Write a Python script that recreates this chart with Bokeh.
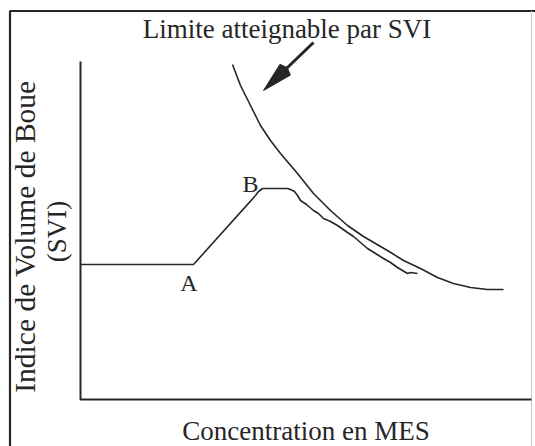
import numpy as np
from bokeh.plotting import figure
from bokeh.models import Range1d
from bokeh.core.properties import value
from bokeh.embed import file_html
from bokeh.resources import INLINE

# --- data (arbitrary units: concentration MES vs SVI) ---
svi_x = [0, 113, 175, 178, 182, 207, 210, 214, 217, 220, 226, 233, 238, 243, 250, 257,
         267, 273, 280, 287, 295, 303, 310, 317, 327, 330, 337]
svi_y = [135, 135, 204, 208, 211, 211, 210, 208, 204, 199, 195, 189, 186, 181, 178, 174,
         167, 163, 157, 151, 146, 141, 137, 132, 126, 127, 126]

limit_x = [152, 160, 170, 180, 190, 200, 217, 233, 250, 267, 283, 300, 307, 323, 340,
           357, 373, 390, 407, 423]
limit_y = [335, 314, 294, 274, 259, 246, 226, 206, 189, 174, 163, 153, 149, 139, 131,
           122, 116, 112, 110, 110]

x_axis_end = 451
y_axis_end = 338

arrow_tail = (233, 357)
arrow_tip = (183, 309)

title_text = "Limite atteignable par SVI"
xlabel_text = "Concentration en MES"
ylabel_text = "Indice de Volume de Boue"
ylabel2_text = "(SVI)"
point_labels = ["A", "B"]

INK = "#262626"
FONT = value("Liberation Serif")

p = figure(width=535, height=446, output_backend="svg", toolbar_location=None,
           x_range=Range1d(-80, 455), y_range=Range1d(-47, 399),
           min_border=0, min_border_left=0, min_border_right=0,
           min_border_top=0, min_border_bottom=0)
p.axis.visible = False
p.grid.visible = False
p.outline_line_color = None
p.background_fill_color = "white"
p.border_fill_color = "white"

# outer frame
p.line([-70.5, -70.5, 455], [-60, 388.5, 388.5], line_color=INK, line_width=2.2)
p.line([451, 451], [-60, 388.5], line_color="#c8c8c8", line_width=1)

# chart axes
p.line([0, 0, x_axis_end], [y_axis_end, 0, 0], line_color=INK, line_width=2)

# curves
p.line(limit_x, limit_y, line_color=INK, line_width=1.6)
p.line(svi_x, svi_y, line_color=INK, line_width=1.6)

# arrow (shaft + elongated filled head computed from tail/tip)
tail = np.array(arrow_tail, dtype=float)
tip = np.array(arrow_tip, dtype=float)
u = (tail - tip) / np.linalg.norm(tail - tip)
n = np.array([-u[1], u[0]])
head_len, head_w = 30.0, 15.0
base = tip + u * head_len
p.line([tail[0], base[0]], [tail[1], base[1]], line_color=INK, line_width=3)
corners = [tip, base + n * head_w / 2, base + u * 3, base - n * head_w / 2]
p.patch([c[0] for c in corners], [c[1] for c in corners], fill_color=INK, line_color=INK)

# texts
p.text(x=[206.5], y=[371], text=[title_text], text_font=FONT, text_font_size=value("27px"),
       text_align="center", text_baseline="alphabetic", text_color=INK)
p.text(x=[225.5], y=[-31], text=[xlabel_text], text_font=FONT, text_font_size=value("27px"),
       text_align="center", text_baseline="alphabetic", text_color=INK)
p.text(x=[-56], y=[163], text=[ylabel_text], text_font=FONT, text_font_size=value("29.5px"),
       text_align="center", text_baseline="alphabetic", angle=np.pi / 2, text_color=INK)
p.text(x=[-24], y=[168], text=[ylabel2_text], text_font=FONT, text_font_size=value("27px"),
       text_align="center", text_baseline="alphabetic", angle=np.pi / 2, text_color=INK)
p.text(x=[108.5, 170], y=[117, 216], text=point_labels, text_font=FONT,
       text_font_size=value("24px"), text_align="center", text_baseline="alphabetic",
       text_color=INK)

open("out.html", "w").write(file_html(p, INLINE))
